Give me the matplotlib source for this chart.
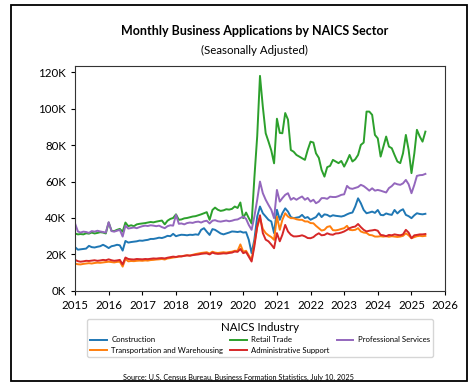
import matplotlib
matplotlib.use("Agg")
import matplotlib.pyplot as plt
import matplotlib.dates as mdates
from matplotlib.patches import Rectangle
from matplotlib.ticker import FuncFormatter
import numpy as np
import pandas as pd

plt.rcParams["font.family"] = ["Lato", "DejaVu Sans"]

# ── 데이터 (천 건, 월별 2015-01 ~ 2025-06) ─────────────────────────────────
months = pd.date_range("2015-01-01", periods=126, freq="MS")

construction = [
    24.0, 22.6, 22.8, 23.0, 23.2, 24.7, 24.0, 23.8, 24.2, 24.5, 25.3, 24.5,
    23.5, 24.5, 24.8, 25.3, 25.0, 22.1, 27.4, 26.5, 26.8, 27.0, 27.2, 27.6,
    27.5, 27.8, 28.0, 28.5, 28.5, 28.8, 29.2, 29.0, 29.5, 30.2, 30.0, 31.3,
    30.0, 30.5, 30.8, 30.7, 30.5, 30.8, 30.7, 31.0, 30.8, 33.5, 34.4, 32.5,
    30.7, 33.9, 33.5, 32.5, 31.5, 31.0, 31.5, 32.0, 32.6, 32.5, 32.3, 32.6,
    32.0, 32.2, 28.1, 20.7, 28.1, 40.8, 46.3, 42.6, 40.8, 39.0, 38.1, 31.7,
    44.5, 39.0, 42.6, 45.3, 43.5, 40.5, 39.9, 40.2, 40.5, 41.7, 40.0, 40.5,
    39.0, 39.8, 40.5, 42.6, 40.5, 42.0, 41.7, 40.8, 41.5, 41.2, 41.0, 40.8,
    41.2, 42.0, 42.6, 43.0, 46.3, 50.8, 48.1, 44.4, 42.6, 43.0, 43.5, 42.8,
    44.4, 41.7, 41.5, 42.5, 42.0, 41.7, 44.4, 42.5, 44.0, 44.8, 41.7, 41.0,
    39.9, 41.5, 42.6, 42.2, 42.0, 42.3,
]

transportation = [
    15.0, 14.6, 14.5, 14.8, 15.0, 15.2, 15.0, 15.3, 15.5, 15.4, 15.6, 15.8,
    16.0, 15.8, 15.6, 15.9, 16.0, 13.3, 17.5, 16.2, 16.4, 16.3, 16.5, 16.6,
    16.5, 16.7, 16.6, 16.9, 17.0, 17.2, 17.3, 17.5, 17.2, 17.8, 18.0, 18.3,
    18.5, 18.8, 19.0, 19.3, 19.5, 19.4, 19.8, 20.2, 20.5, 20.8, 21.0, 21.2,
    20.5, 21.5, 21.0, 20.8, 21.0, 21.2, 21.0, 21.3, 21.5, 22.0, 22.0, 25.5,
    21.5, 22.0, 19.5, 17.0, 26.1, 35.0, 40.0, 34.0, 31.7, 30.5, 29.5, 28.0,
    40.8, 33.5, 39.0, 42.6, 40.8, 39.9, 39.9, 39.3, 39.0, 39.0, 38.1, 38.1,
    37.2, 37.1, 35.7, 34.4, 33.1, 33.5, 35.1, 35.5, 33.3, 33.2, 33.5, 34.0,
    34.4, 35.7, 33.5, 33.3, 33.5, 34.4, 32.6, 32.0, 31.8, 30.7, 30.5, 29.8,
    29.8, 30.0, 29.8, 30.0, 29.7, 30.0, 29.8, 29.6, 29.8, 30.2, 31.6, 30.5,
    28.9, 29.5, 30.0, 30.2, 30.0, 30.2,
]

retail = [
    31.5, 31.0, 31.2, 31.0, 31.6, 31.4, 32.0, 31.5, 31.8, 32.2, 32.0, 31.5,
    37.5, 33.0, 32.8, 33.5, 34.0, 32.5, 37.5, 35.5, 36.0, 35.5, 36.5, 36.8,
    37.0, 37.2, 37.5, 37.8, 37.6, 38.0, 38.3, 38.6, 36.5, 38.5, 39.5, 40.0,
    42.0, 39.0, 39.2, 39.8, 40.0, 40.4, 40.8, 41.0, 41.5, 42.0, 42.6, 43.2,
    39.0, 44.4, 45.7, 44.5, 43.9, 44.2, 44.8, 44.6, 45.0, 46.3, 45.5, 48.5,
    39.9, 43.0, 40.0, 37.0, 62.0, 85.0, 118.0, 101.0, 86.5, 82.0, 77.0, 70.0,
    94.5, 86.7, 86.5, 97.6, 94.0, 77.3, 76.4, 74.6, 73.7, 72.8, 71.9, 77.3,
    81.9, 81.4, 75.5, 73.0, 66.4, 62.7, 67.9, 68.6, 71.9, 71.0, 70.1, 71.3,
    68.2, 71.3, 74.6, 71.0, 72.2, 74.6, 80.1, 81.4, 98.4, 98.4, 96.6, 85.6,
    83.7, 73.7, 79.0, 84.7, 79.2, 78.3, 74.6, 71.0, 70.1, 75.5, 85.6, 77.4,
    64.6, 75.5, 88.4, 84.7, 81.9, 87.4,
]

admin_support = [
    17.0, 16.3, 16.0, 16.2, 16.5, 16.4, 16.6, 16.8, 16.5, 16.7, 17.0, 16.8,
    17.3, 16.8, 16.5, 16.7, 17.0, 14.5, 18.3, 17.5, 17.3, 17.2, 17.5, 17.4,
    17.3, 17.5, 17.4, 17.6, 17.8, 17.7, 17.9, 18.0, 17.8, 18.2, 18.5, 18.8,
    18.6, 19.0, 18.9, 19.2, 19.5, 19.3, 19.6, 19.8, 20.0, 20.3, 20.5, 20.6,
    20.0, 21.0, 20.5, 20.3, 20.4, 20.6, 20.5, 20.8, 21.0, 21.6, 21.4, 23.0,
    20.7, 21.3, 18.8, 16.1, 24.4, 35.3, 41.5, 31.7, 28.1, 27.2, 25.4, 23.4,
    31.7, 27.2, 30.8, 36.2, 32.6, 30.8, 29.9, 29.9, 30.1, 30.5, 29.9, 29.0,
    28.9, 29.5, 30.7, 31.6, 30.5, 30.7, 31.6, 31.0, 30.8, 31.5, 31.6, 32.0,
    32.6, 33.5, 34.4, 35.0, 35.3, 36.7, 35.0, 33.5, 32.6, 33.0, 33.2, 33.5,
    33.0, 30.7, 30.5, 30.0, 30.7, 30.5, 31.0, 30.7, 30.5, 31.0, 33.5, 32.0,
    28.9, 30.5, 30.7, 31.0, 31.0, 31.2,
]

professional = [
    37.0, 32.6, 32.0, 32.5, 32.3, 31.8, 32.8, 32.5, 33.0, 32.6, 32.3, 32.0,
    37.7, 32.8, 32.5, 33.0, 33.5, 29.8, 35.8, 34.2, 34.5, 34.8, 34.4, 35.0,
    35.5, 35.8, 35.6, 36.0, 35.8, 35.5, 35.8, 35.0, 34.4, 35.5, 36.0, 35.8,
    41.7, 36.8, 37.0, 36.5, 37.2, 37.5, 37.3, 37.8, 38.0, 37.5, 38.2, 38.5,
    37.0, 38.5, 38.8, 38.2, 38.0, 38.3, 38.6, 38.2, 38.5, 39.0, 39.2, 40.0,
    40.8, 39.5, 36.2, 33.5, 40.8, 50.0, 60.0, 53.6, 50.0, 47.2, 44.5, 39.9,
    55.4, 49.0, 50.9, 52.7, 53.6, 50.0, 51.0, 50.0, 51.0, 51.8, 50.0, 51.0,
    49.0, 50.0, 48.1, 49.0, 50.9, 50.9, 50.5, 51.7, 51.5, 51.5, 52.0, 52.7,
    53.0, 57.6, 56.3, 56.0, 56.5, 57.0, 58.2, 57.5, 56.3, 55.0, 56.3, 55.0,
    55.4, 55.0, 54.5, 54.0, 56.4, 57.5, 59.1, 58.5, 58.2, 59.0, 60.9, 58.5,
    53.6, 58.2, 63.1, 63.5, 63.6, 64.2,
]

series = [
    ("Construction", construction),
    ("Transportation and Warehousing", transportation),
    ("Retail Trade", retail),
    ("Administrative Support", admin_support),
    ("Professional Services", professional),
]

# ── 그림 ────────────────────────────────────────────────────────────────────
fig = plt.figure(figsize=(4.72, 3.92), dpi=100)
ax = fig.add_axes([0.159, 0.258, 0.784, 0.574])

for i, (name, vals) in enumerate(series):
    ax.plot(months, vals, color=f"C{i}", lw=1.4, label=name)

ax.set_xlim(pd.Timestamp("2015-01-01"), pd.Timestamp("2026-01-01"))
ax.set_ylim(0, 123.5)
ax.set_yticks(np.arange(0, 121, 20))
ax.yaxis.set_major_formatter(FuncFormatter(lambda v, p: f"{v:.0f}K"))
ax.xaxis.set_major_locator(mdates.YearLocator())
ax.xaxis.set_major_formatter(mdates.DateFormatter("%Y"))
ax.tick_params(labelsize=8.3, length=3, width=0.8)
for s in ax.spines.values():
    s.set_linewidth(0.8)
    s.set_color("#333333")

fig.text(0.54, 0.921, "Monthly Business Applications by NAICS Sector",
         ha="center", va="center", fontsize=9.0, fontweight="bold")
fig.text(0.54, 0.872, "(Seasonally Adjusted)", ha="center", va="center", fontsize=8.3)

leg = fig.legend(loc="center", bbox_to_anchor=(0.551, 0.138), ncol=3,
                 title="NAICS Industry", fontsize=5.6, title_fontsize=8.3,
                 handlelength=2.1, handletextpad=0.6, columnspacing=0.9,
                 labelspacing=0.4, borderpad=0.4, frameon=True, fancybox=True)

fig.text(0.505, 0.038,
         "Source: U.S. Census Bureau, Business Formation Statistics, July 10, 2025",
         ha="center", va="center", fontsize=5.2)

# 바깥 테두리
fig.patches.append(Rectangle((0.0233, 0.028), 0.966, 0.959, transform=fig.transFigure,
                             fill=False, edgecolor="black", lw=1.3))

fig.savefig("out.png", dpi=100)
